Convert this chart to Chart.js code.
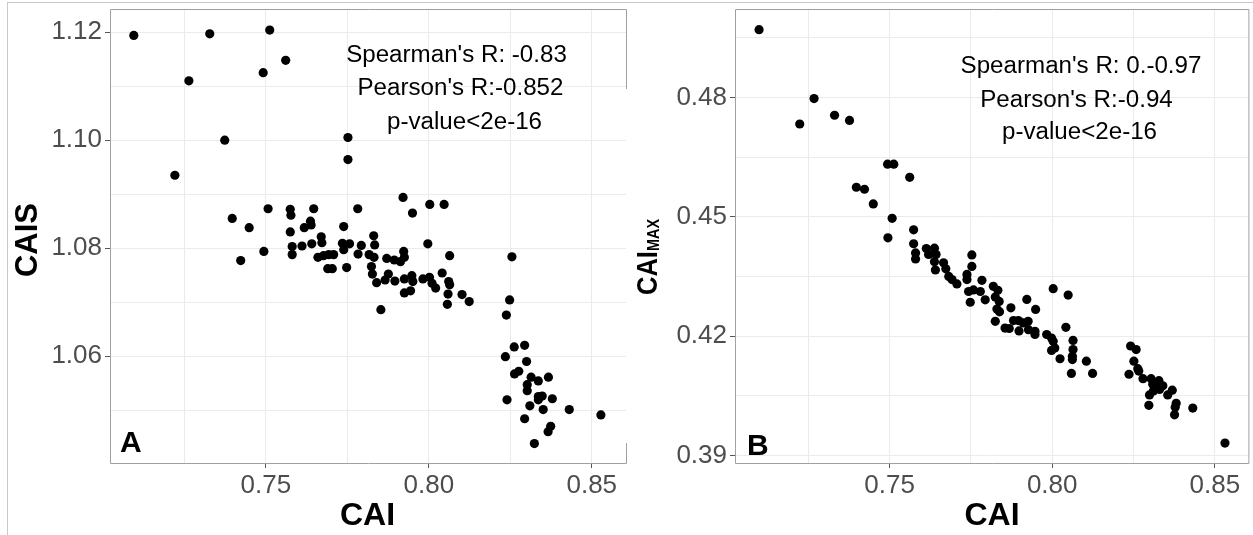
<!DOCTYPE html>
<html lang="en">
<head>
    <meta charset="UTF-8">
    <title>CAI vs CAIS / CAImax</title>
    <script src="https://cdn.jsdelivr.net/npm/chart.js"></script>
    <style>
        body { margin: 0; background: #fff; overflow: hidden; width: 1253px; height: 535px; position: relative; }
        #frame { position: absolute; left: 7px; top: 2px; width: 1300px; height: 600px; border: 1px solid #c8c8c8; }
        canvas { position: absolute; top: 0; }
    </style>
</head>
<body>
<div id="frame"></div>
<canvas id="chartA" width="632" height="535" style="left:0"></canvas>
<canvas id="chartB" width="621" height="535" style="left:632px"></canvas>

<script>
    // panel A: CAI vs CAIS
    const caiA = [
        0.7095, 0.7328, 0.7512, 0.7561, 0.7492, 0.7264, 0.7374, 0.7221, 0.7752, 0.7752,
        0.7921, 0.7950, 0.7782, 0.7831, 0.7739, 0.7647, 0.7637, 0.7639, 0.7618, 0.7575,
        0.7577, 0.7575, 0.7507, 0.7449, 0.7397, 0.7670, 0.8003, 0.8047,
        0.7494, 0.7423, 0.7581, 0.7581, 0.7611, 0.7641, 0.7672, 0.7660, 0.7677, 0.7693,
        0.7708, 0.7690, 0.7704, 0.7735, 0.7739, 0.7757, 0.7748, 0.7783, 0.7793, 0.7834,
        0.7817, 0.7832, 0.7824, 0.7827, 0.7840, 0.7853, 0.7871, 0.7876, 0.7866, 0.7896,
        0.7894, 0.7913, 0.7923, 0.7925, 0.7925, 0.7948, 0.7951, 0.7925, 0.7944, 0.7997,
        0.7982, 0.8002, 0.8010, 0.8021, 0.8041, 0.8064, 0.8061, 0.8064, 0.8059, 0.8057,
        0.8102, 0.8124, 0.8255, 0.8248, 0.8238, 0.8235, 0.8262, 0.8294, 0.8300, 0.8263,
        0.8276, 0.8314, 0.8336, 0.8367, 0.8302, 0.8302, 0.8240, 0.8336, 0.8348, 0.8336,
        0.8379, 0.8310, 0.8351, 0.8431, 0.8528, 0.8294, 0.8374, 0.8366, 0.8324
    ];
    const caisA = [
        1.1194, 1.1197, 1.1204, 1.1148, 1.1125, 1.1110, 1.1000, 1.0935, 1.1005, 1.0964,
        1.0894, 1.0865, 1.0873, 1.0823, 1.0840, 1.0873, 1.0850, 1.0843, 1.0838, 1.0872,
        1.0861, 1.0830, 1.0873, 1.0838, 1.0855, 1.0821, 1.0881, 1.0881,
        1.0794, 1.0777, 1.0803, 1.0788, 1.0804, 1.0808, 1.0810, 1.0783, 1.0786, 1.0788,
        1.0788, 1.0762, 1.0762, 1.0809, 1.0797, 1.0808, 1.0764, 1.0789, 1.0805, 1.0806,
        1.0788, 1.0783, 1.0766, 1.0752, 1.0736, 1.0686, 1.0781, 1.0752, 1.0741, 1.0739,
        1.0778, 1.0775, 1.0794, 1.0783, 1.0743, 1.0749, 1.0738, 1.0717, 1.0721, 1.0808,
        1.0743, 1.0746, 1.0735, 1.0726, 1.0754, 1.0786, 1.0738, 1.0732, 1.0715, 1.0696,
        1.0714, 1.0701, 1.0784, 1.0704, 1.0676, 1.0599, 1.0617, 1.0620, 1.0590, 1.0567,
        1.0572, 1.0561, 1.0554, 1.0561, 1.0547, 1.0536, 1.0519, 1.0525, 1.0526, 1.0519,
        1.0521, 1.0508, 1.0501, 1.0501, 1.0491, 1.0484, 1.0470, 1.0460, 1.0438
    ];

    // panel B: CAI vs CAImax
    const caiB = [
        0.7099, 0.7268, 0.7224, 0.7331, 0.7377, 0.7494, 0.7513, 0.7562, 0.7398, 0.7423,
        0.7450, 0.7508, 0.7495, 0.7574, 0.7574, 0.7613, 0.7638,
        0.7580, 0.7580, 0.7620, 0.7643, 0.7638, 0.7641, 0.7666, 0.7673, 0.7682, 0.7692,
        0.7707, 0.7753, 0.7753, 0.7738, 0.7738, 0.7784, 0.7743, 0.7758, 0.7779, 0.7748,
        0.7794, 0.7819, 0.7833, 0.7825, 0.7837, 0.7830, 0.7838, 0.7825, 0.7873, 0.7922,
        0.7949, 0.7855, 0.7868, 0.7881, 0.7896, 0.7911, 0.7926, 0.7898, 0.7927, 0.7947,
        0.7947, 0.7983, 0.7998, 0.8003, 0.8008, 0.7998, 0.8024, 0.8003, 0.8049, 0.8042,
        0.8064, 0.8064, 0.8062, 0.8062, 0.8059, 0.8105, 0.8124,
        0.8241, 0.8258, 0.8251, 0.8263, 0.8266, 0.8236, 0.8279, 0.8304, 0.8328, 0.8309,
        0.8320, 0.8340, 0.8311, 0.8299, 0.8330, 0.8355, 0.8369, 0.8297, 0.8381, 0.8378,
        0.8376, 0.8432, 0.8531
    ];
    const caimaxB = [
        0.4970, 0.4797, 0.4733, 0.4755, 0.4742, 0.4632, 0.4632, 0.4599, 0.4574, 0.4569,
        0.4532, 0.4496, 0.4447, 0.4467, 0.4432, 0.4420, 0.4421,
        0.4409, 0.4394, 0.4405, 0.4405, 0.4387, 0.4366, 0.4384, 0.4369, 0.4350, 0.4342,
        0.4331, 0.4404, 0.4375, 0.4355, 0.4342, 0.4340, 0.4312, 0.4316, 0.4312, 0.4285,
        0.4291, 0.4325, 0.4315, 0.4298, 0.4287, 0.4268, 0.4261, 0.4237, 0.4271, 0.4292,
        0.4267, 0.4220, 0.4219, 0.4239, 0.4239, 0.4233, 0.4237, 0.4213, 0.4216, 0.4212,
        0.4204, 0.4204, 0.4195, 0.4187, 0.4170, 0.4164, 0.4143, 0.4319, 0.4303, 0.4222,
        0.4189, 0.4166, 0.4149, 0.4141, 0.4106, 0.4137, 0.4106,
        0.4175, 0.4166, 0.4137, 0.4118, 0.4112, 0.4104, 0.4093, 0.4093, 0.4088, 0.4079,
        0.4075, 0.4075, 0.4062, 0.4052, 0.4066, 0.4052, 0.4064, 0.4026, 0.4031, 0.4021,
        0.4002, 0.4019, 0.3931
    ];

    // ticks (minor ones get an empty label)
    const xTicks = [0.725, 0.75, 0.775, 0.80, 0.825, 0.85];
    const xTickLabels = ['', '0.75', '', '0.80', '', '0.85'];
    const yTicksA = [1.05, 1.06, 1.07, 1.08, 1.09, 1.10, 1.11, 1.12];
    const yTickLabelsA = ['', '1.06', '', '1.08', '', '1.10', '', '1.12'];
    const yTicksB = [0.39, 0.405, 0.42, 0.435, 0.45, 0.465, 0.48, 0.495];
    const yTickLabelsB = ['0.39', '', '0.42', '', '0.45', '', '0.48', ''];

    const statsA = ["Spearman's R: -0.83", "Pearson's R:-0.852", 'p-value<2e-16'];
    const statsB = ["Spearman's R: 0.-0.97", "Pearson's R:-0.94", 'p-value<2e-16'];

    const FONT = '"Liberation Sans", Arial, sans-serif';

    // draws panel border, axis titles, stats text and panel letter
    function decorPlugin(cfg) {
        return {
            id: 'decor',
            afterDraw(chart) {
                const ctx = chart.ctx;
                const a = chart.chartArea;
                ctx.save();
                ctx.strokeStyle = '#a0a0a0';
                ctx.lineWidth = 1;
                ctx.beginPath();
                ctx.moveTo(a.right + 0.5, a.top + 0.5);
                ctx.lineTo(a.left + 0.5, a.top + 0.5);
                ctx.lineTo(a.left + 0.5, a.bottom + 0.5);
                ctx.lineTo(a.right + 0.5, a.bottom + 0.5);
                if (cfg.cutRight) {
                    ctx.lineTo(a.right + 0.5, a.bottom - 20);
                    ctx.moveTo(a.right + 0.5, a.top + 0.5);
                    ctx.lineTo(a.right + 0.5, a.top + 80);
                } else {
                    ctx.lineTo(a.right + 0.5, a.top + 0.5);
                }
                ctx.stroke();

                ctx.fillStyle = '#000';
                // stats
                ctx.font = '23px ' + FONT;
                ctx.textAlign = 'center';
                ctx.textBaseline = 'alphabetic';
                cfg.stats.forEach((t, i) => {
                    ctx.save();
                    ctx.translate(cfg.statX[i], cfg.statY[i]);
                    ctx.scale(1.05, 1);
                    ctx.fillText(t, 0, 0);
                    ctx.restore();
                });

                // x title
                ctx.font = 'bold 32px ' + FONT;
                ctx.fillText('CAI', cfg.xTitleX, 525);

                // panel letter
                ctx.textAlign = 'left';
                ctx.font = 'bold 30px ' + FONT;
                ctx.fillText(cfg.letter, cfg.letterX, cfg.letterY);

                // y title
                ctx.save();
                ctx.translate(cfg.yTitleX, cfg.yTitleY);
                ctx.rotate(-Math.PI / 2);
                if (cfg.sub) {
                    ctx.scale(0.85, 1);
                    ctx.textAlign = 'left';
                    ctx.font = 'bold 30px ' + FONT;
                    ctx.fillText(cfg.yTitle, 0, 0);
                    const w = ctx.measureText(cfg.yTitle).width;
                    ctx.font = 'bold 17px ' + FONT;
                    ctx.fillText(cfg.sub, w, 2);
                } else {
                    ctx.textAlign = 'center';
                    ctx.font = 'bold 31px ' + FONT;
                    ctx.fillText(cfg.yTitle, 0, 0);
                }
                ctx.restore();
                ctx.restore();
            }
        };
    }

    // keep the axis boxes from pushing the plot area in
    function noPad(s) {
        s.paddingTop = 0;
        s.paddingBottom = 0;
        s.paddingLeft = 0;
        s.paddingRight = 0;
    }

    function makePanel(id, xs, ys, yTicks, yLabels, xRange, yRange, axisW, padRight, cfg) {
        const points = xs.map((x, i) => ({ x: x, y: ys[i] }));
        const tickColor = c => (c.tick && c.tick.label) ? '#555555' : 'rgba(0,0,0,0)';
        new Chart(document.getElementById(id), {
            type: 'scatter',
            data: {
                datasets: [{
                    data: points,
                    backgroundColor: '#000000',
                    borderWidth: 0,
                    pointRadius: 4.6,
                    pointHoverRadius: 4.6
                }]
            },
            options: {
                responsive: false,
                animation: false,
                events: [],
                layout: { padding: { left: 0, right: padRight, top: 9, bottom: 0 } },
                plugins: { legend: { display: false }, tooltip: { enabled: false } },
                scales: {
                    x: {
                        type: 'linear',
                        min: xRange[0],
                        max: xRange[1],
                        afterBuildTicks: s => { s.ticks = xTicks.map(v => ({ value: v })); },
                        afterFit: s => { s.height = 72; noPad(s); },
                        ticks: {
                            autoSkip: false,
                            maxRotation: 0,
                            padding: 2,
                            color: '#4d4d4d',
                            font: { family: FONT, size: 26 },
                            callback: (v, i) => xTickLabels[i]
                        },
                        grid: { color: '#ebebeb', tickLength: 5, tickColor: tickColor },
                        border: { display: false }
                    },
                    y: {
                        type: 'linear',
                        min: yRange[0],
                        max: yRange[1],
                        afterBuildTicks: s => { s.ticks = yTicks.map(v => ({ value: v })); },
                        afterFit: s => { s.width = axisW; noPad(s); },
                        ticks: {
                            autoSkip: false,
                            padding: 3,
                            color: '#4d4d4d',
                            font: { family: FONT, size: 26 },
                            callback: (v, i) => yLabels[i]
                        },
                        grid: { color: '#ebebeb', tickLength: 5, tickColor: tickColor },
                        border: { display: false }
                    }
                }
            },
            plugins: [decorPlugin(cfg)]
        });
    }

    makePanel('chartA', caiA, caisA, yTicksA, yTickLabelsA,
        [0.7022, 0.8605], [1.0402, 1.1243], 110, 6, {
            stats: statsA, statX: [456.5, 460.5, 464.5], statY: [62, 95, 129],
            xTitleX: 367.5, letter: 'A', letterX: 120, letterY: 452,
            yTitle: 'CAIS', yTitleX: 37, yTitleY: 240, cutRight: true
        });

    makePanel('chartB', caiB, caimaxB, yTicksB, yTickLabelsB,
        [0.7025, 0.8603], [0.3881, 0.5022], 103, 4, {
            stats: statsB, statX: [449, 444.5, 447.5], statY: [73, 107, 139],
            xTitleX: 360, letter: 'B', letterX: 115, letterY: 455,
            yTitle: 'CAI', sub: 'MAX', yTitleX: 25, yTitleY: 295
        });
</script>
</body>
</html>
